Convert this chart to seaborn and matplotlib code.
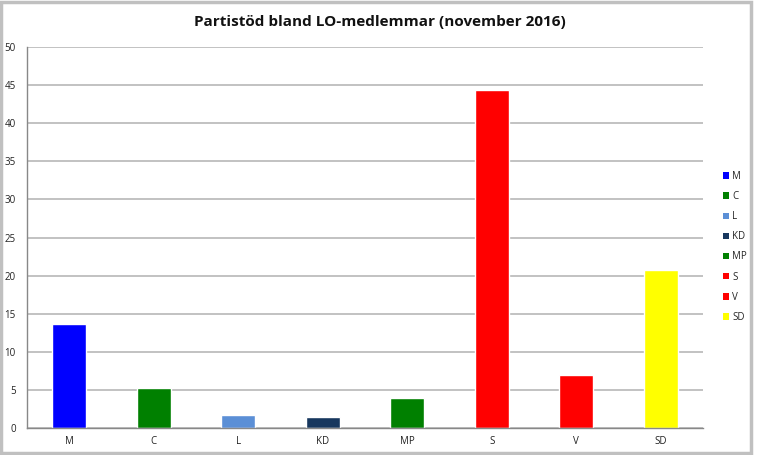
import matplotlib
matplotlib.use("Agg")
import matplotlib.pyplot as plt
import seaborn as sns
import pandas as pd
from matplotlib.patches import Rectangle, Patch

parties = ["M", "C", "L", "KD", "MP", "S", "V", "SD"]
support = [13.7, 5.3, 1.7, 1.5, 4.0, 44.3, 7.0, 20.7]
colors = ["#0000ff", "#008000", "#5b8fd6", "#17375e", "#008000", "#ff0000", "#ff0000", "#ffff00"]
yticks = [0, 5, 10, 15, 20, 25, 30, 35, 40, 45, 50]
title = "Partistöd bland LO-medlemmar (november 2016)"

sns.set_style("white")
plt.rcParams['font.family'] = ['Open Sans', 'DejaVu Sans']

df = pd.DataFrame({"party": parties, "support": support})

fig = plt.figure(figsize=(7.59, 4.55), dpi=100)
ax = fig.add_axes([27/759, 27/455, (703-27)/759, (428-47)/455])

sns.barplot(data=df, x="party", y="support", hue="party", palette=colors,
            width=0.4, legend=False, ax=ax, saturation=1)

ax.set_ylim(0, 50)
ax.set_xlim(-0.5, 7.5)
ax.set_yticks(yticks)
ax.set_yticklabels([str(t) for t in yticks], fontsize=7, color="#222222")
ax.tick_params(axis="x", labelsize=7, colors="#222222", length=0, pad=6)
ax.tick_params(axis="y", length=0, pad=8)
ax.set_xlabel("")
ax.set_ylabel("")
ax.yaxis.grid(True, color="#bdbdbd", linewidth=1.3)
ax.set_axisbelow(True)
for s in ["top", "right"]:
    ax.spines[s].set_visible(False)
ax.spines["left"].set_color("#888888")
ax.spines["bottom"].set_color("#888888")
ax.spines["left"].set_linewidth(1)
ax.spines["bottom"].set_linewidth(1)

handles = [Patch(facecolor=c, edgecolor="none") for c in colors]
leg = fig.legend(handles, parties, loc="upper left", bbox_to_anchor=(719/759, 1 - 167/455),
                 frameon=False, fontsize=7, handlelength=0.65, handleheight=0.65,
                 handletextpad=0.3, labelspacing=0.94, borderaxespad=0)

fig.text(380/759, 1 - 22/455, title, ha="center", va="center", fontsize=11, fontweight="bold", color="#111111")

fig.patches.append(Rectangle((1/759, 2/455), 750/759, 451/455, transform=fig.transFigure,
                             fill=False, edgecolor="#c0c0c0", linewidth=2.5))

fig.savefig("out.png", dpi=100)
